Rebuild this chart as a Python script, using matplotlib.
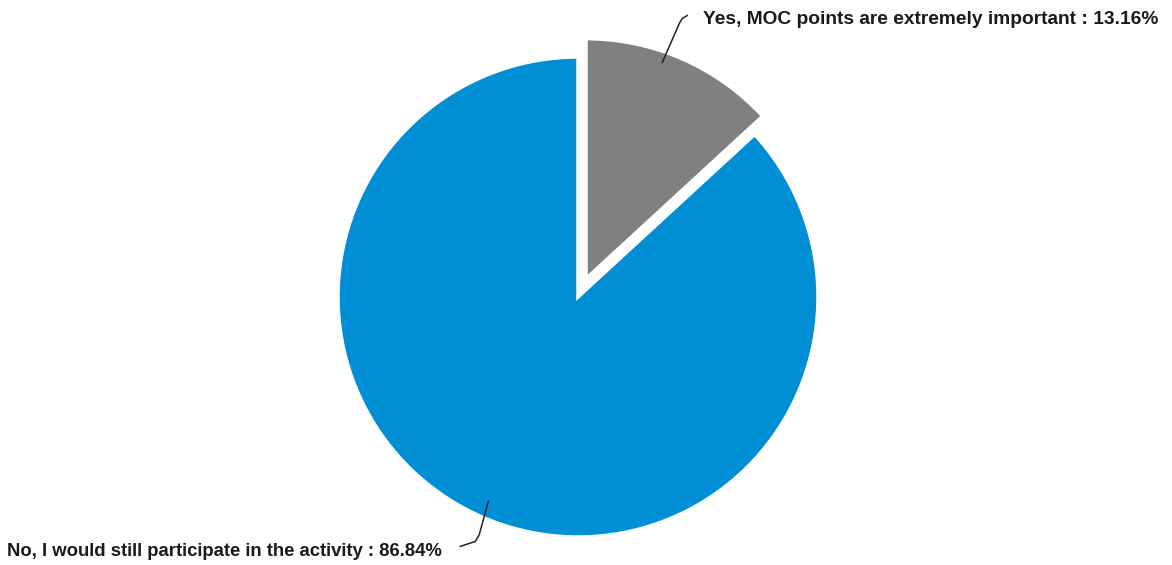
import numpy as np
import matplotlib.pyplot as plt

labels = ["Yes, MOC points are extremely important", "No, I would still participate in the activity"]
shares = [13.16, 86.84]
colors = ["#808080", "#008FD5"]

plt.rcParams['font.family'] = ['Liberation Sans', 'DejaVu Sans']

fig = plt.figure(figsize=(11.72, 5.65), dpi=100)
ax = fig.add_axes([0, 0, 1, 1])

center = (578, 268)
radius = 240
# explode is in data units here (pixels), not a fraction of the radius
wedges, _ = ax.pie(shares, colors=colors, startangle=90, counterclock=False,
                   center=center, radius=radius, explode=[20, 0],
                   wedgeprops=dict(edgecolor='white', linewidth=2.5))
# pie() resets the limits, so set pixel-like limits afterwards
ax.set_xlim(0, 1172)
ax.set_ylim(0, 565)
ax.set_aspect('equal')
ax.axis('off')

def edge_point(w, ang, frac):
    cx, cy = w.center
    a = np.deg2rad(ang)
    return cx + frac * w.r * np.cos(a), cy + frac * w.r * np.sin(a)

# label for the small grey slice, top right
w = wedges[0]
px, py = edge_point(w, w.theta1 + 0.59 * (w.theta2 - w.theta1), 0.955)
ax.plot([px, px + 17, px + 20, px + 25], [py, py + 39, py + 44, py + 47],
        color='#222222', lw=1.1)
ax.text(703, 545, f"{labels[0]} : {shares[0]:.2f}%", ha='left', va='center',
        fontsize=13.8, fontweight='bold', color='#1a1a1a')

# label for the big blue slice, bottom left
w = wedges[1]
mid = (w.theta1 + w.theta2) / 2
px, py = edge_point(w, mid, 0.93)
ax.plot([px, px - 9, px - 13, px - 28], [py, py - 33, py - 40, py - 45],
        color='#222222', lw=1.1)
ax.text(442, 13, f"{labels[1]} : {shares[1]:.2f}%", ha='right', va='center',
        fontsize=13.3, fontweight='bold', color='#1a1a1a')

plt.savefig('out.png', dpi=100)
